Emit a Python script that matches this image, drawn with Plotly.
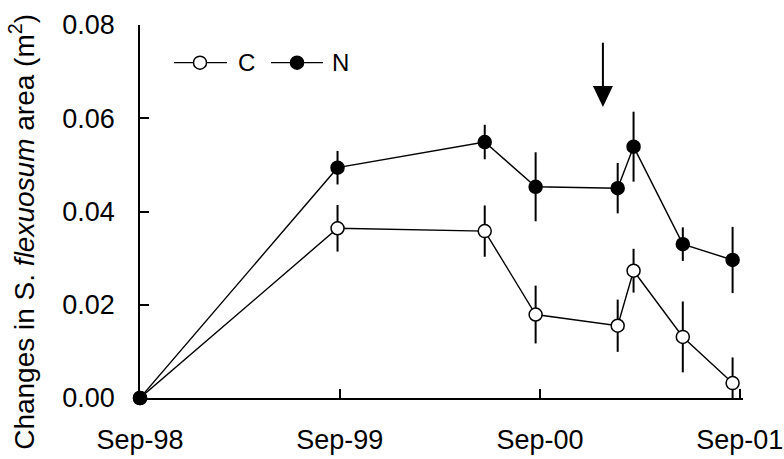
import plotly.graph_objects as go

# Sampling dates and mean change in S. flexuosum area (m2) with error bars
dates = ["1998-09-01", "1999-08-28", "2000-05-23", "2000-08-24",
         "2001-01-21", "2001-02-19", "2001-05-20", "2001-08-19"]
c_mean = [0.0, 0.0364, 0.0358, 0.0179, 0.0155, 0.0273, 0.0131, 0.0032]
c_err = [0.0, 0.0050, 0.0055, 0.0062, 0.0056, 0.0047, 0.0076, 0.0055]
n_mean = [0.0, 0.0494, 0.0549, 0.0453, 0.0450, 0.0539, 0.0330, 0.0296]
n_err = [0.0, 0.0036, 0.0037, 0.0074, 0.0054, 0.0075, 0.0036, 0.0071]

tick_dates = ["1998-09-01", "1999-09-01", "2000-09-01", "2001-09-01"]
tick_text = ["Sep-98", "Sep-99", "Sep-00", "Sep-01"]
y_ticks = [0.0, 0.02, 0.04, 0.06, 0.08]

# Treatment start marker (arrow)
arrow_date = "2000-12-25"
arrow_tip = 0.0624
arrow_top = 0.0762

FONT = "Liberation Sans, Arial, sans-serif"

fig = go.Figure()

fig.add_trace(go.Scatter(
    x=dates, y=c_mean, mode="lines+markers", name="C",
    line=dict(color="black", width=1.4),
    marker=dict(size=13, color="white", line=dict(color="black", width=1.5)),
    error_y=dict(type="data", array=c_err, visible=True, width=0,
                 thickness=2, color="black"),
    cliponaxis=False, showlegend=False,
))
fig.add_trace(go.Scatter(
    x=dates, y=n_mean, mode="lines+markers", name="N",
    line=dict(color="black", width=1.4),
    marker=dict(size=13, color="black", line=dict(color="black", width=1.5)),
    error_y=dict(type="data", array=n_err, visible=True, width=0,
                 thickness=2, color="black"),
    cliponaxis=False, showlegend=False,
))

shapes = []
# arrow shaft and head
shapes.append(dict(type="line", xref="x", yref="y", x0=arrow_date, x1=arrow_date,
                   y0=arrow_top, y1=arrow_tip + 0.003,
                   line=dict(color="black", width=2)))
shapes.append(dict(type="path", xref="x", yref="y",
                   xsizemode="pixel", ysizemode="pixel",
                   xanchor=arrow_date, yanchor=arrow_tip,
                   path="M-10,21 L10,21 L0,0 Z",
                   fillcolor="black", line=dict(color="black", width=0)))

# legend glyphs drawn in paper coordinates
leg_y = 0.899
legend_items = [
    ("C", 0.0564, 0.1443, 0.0995, 0.1758, "white"),
    ("N", 0.2172, 0.3035, 0.2604, 0.3317, "black"),
]
annotations = []
for label, lx0, lx1, mx, tx, fill in legend_items:
    shapes.append(dict(type="line", xref="paper", yref="paper",
                       x0=lx0, x1=lx1, y0=leg_y, y1=leg_y,
                       line=dict(color="black", width=1.4)))
    shapes.append(dict(type="circle", xref="paper", yref="paper",
                       xsizemode="pixel", ysizemode="pixel",
                       xanchor=mx, yanchor=leg_y,
                       x0=-6.5, x1=6.5, y0=-6.5, y1=6.5,
                       fillcolor=fill, line=dict(color="black", width=1.5)))
    annotations.append(dict(text=label, xref="paper", yref="paper",
                            x=tx, y=leg_y, showarrow=False,
                            xanchor="center", yanchor="middle",
                            font=dict(family=FONT, size=24, color="black")))

annotations.append(dict(
    text="Changes in S. <i>flexuosum</i> area (m<sup>2</sup>)",
    xref="paper", yref="paper", x=-0.1957, y=0.4455, textangle=-90,
    showarrow=False, xanchor="center", yanchor="middle",
    font=dict(family=FONT, size=28, color="black"),
))

fig.update_layout(
    width=784, height=459,
    margin=dict(l=140, r=41, t=25, b=61, autoexpand=False),
    paper_bgcolor="white", plot_bgcolor="white",
    font=dict(family=FONT, size=27, color="black"),
    shapes=shapes, annotations=annotations,
    showlegend=False,
)
fig.update_xaxes(
    type="date", range=["1998-09-01", "2001-09-07"],
    tickvals=tick_dates, ticktext=tick_text,
    ticks="inside", ticklen=9, tickwidth=1.5, tickcolor="black",
    showline=True, linecolor="black", linewidth=1.5,
    showgrid=False, zeroline=False, ticklabelstandoff=17,
    automargin=False,
)
fig.update_yaxes(
    range=[0, 0.08], tickvals=y_ticks, tickformat=".2f",
    ticks="inside", ticklen=9, tickwidth=1.5, tickcolor="black",
    showline=True, linecolor="black", linewidth=1.5,
    showgrid=False, zeroline=False, ticklabelstandoff=18,
    automargin=False,
)

fig.write_html("out.html")
